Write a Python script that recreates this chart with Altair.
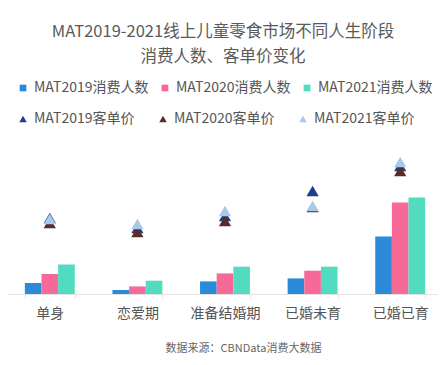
import altair as alt
import pandas as pd

FONT = "Noto Sans CJK SC"

stages = ["单身", "恋爱期", "准备结婚期", "已婚未育", "已婚已育"]
bar_series = ["MAT2019消费人数", "MAT2020消费人数", "MAT2021消费人数"]
price_series = ["MAT2019客单价", "MAT2020客单价", "MAT2021客单价"]

users_2019 = [11, 4, 12.6, 15.6, 57.6]
users_2020 = [20, 7.6, 20.6, 23.3, 91.6]
users_2021 = [29.6, 13.3, 27.3, 27.3, 96.6]

price_2019 = [76, 66, 78, 103, 128]
price_2020 = [71, 62, 73, 87, 123]
price_2021 = [75, 70, 83, 88, 132]

bar_colors = ["#2b8bd8", "#f76a98", "#52dcbf"]
tri_colors = ["#1c3f8c", "#5b2b28", "#a9c8ea"]

title_lines = ["MAT2019-2021线上儿童零食市场不同人生阶段", "消费人数、客单价变化"]
source_text = "数据来源：CBNData消费大数据"

bar_rows = []
for i, s in enumerate(stages):
    for name, vals in zip(bar_series, [users_2019, users_2020, users_2021]):
        bar_rows.append({"stage": s, "series": name, "value": vals[i]})
bars_df = pd.DataFrame(bar_rows)

tri_rows = []
for name, vals in zip(price_series, [price_2019, price_2020, price_2021]):
    for i, s in enumerate(stages):
        tri_rows.append({"stage": s, "series": name, "value": vals[i]})
tri_df = pd.DataFrame(tri_rows)

x_enc = alt.X(
    "stage:N",
    sort=stages,
    scale=alt.Scale(range=[-2, 436], paddingInner=0.43, paddingOuter=0.215),
    axis=alt.Axis(
        title=source_text,
        titleFont=FONT,
        titleFontSize=11,
        titleFontWeight="normal",
        titleColor="#666666",
        titlePadding=22,
        titleX=235,
        labelFont=FONT,
        labelFontSize=14,
        labelColor="#555555",
        labelPadding=8,
        labelAngle=0,
        domainColor="#e3e3e3",
        tickColor="#e3e3e3",
        tickSize=4,
        tickBand="extent",
        grid=False,
    ),
)
y_scale = alt.Scale(domain=[0, 154])

bars = alt.Chart(bars_df).mark_bar().encode(
    x=x_enc,
    xOffset=alt.XOffset("series:N", sort=bar_series,
                        scale=alt.Scale(paddingInner=0, paddingOuter=0)),
    y=alt.Y("value:Q", scale=y_scale, axis=None),
    color=alt.Color(
        "series:N",
        scale=alt.Scale(domain=bar_series, range=bar_colors),
        legend=alt.Legend(
            orient="none", legendX=8, legendY=-59, direction="horizontal",
            title=None, symbolType="square", symbolSize=45, symbolStrokeWidth=0,
            labelFont=FONT, labelFontSize=14, labelColor="#555555",
            labelOffset=4, columnPadding=9, padding=0,
        ),
    ),
)

tris = alt.Chart(tri_df).mark_point(
    shape="triangle-up", filled=True, size=150, opacity=1
).encode(
    x=x_enc,
    y=alt.Y("value:Q", scale=y_scale, axis=None),
    color=alt.Color(
        "series:N",
        sort=price_series,
        scale=alt.Scale(domain=price_series, range=tri_colors),
        legend=alt.Legend(
            orient="none", legendX=8, legendY=-28, direction="horizontal",
            title=None, symbolType="triangle-up", symbolSize=55, symbolStrokeWidth=0,
            labelFont=FONT, labelFontSize=14, labelColor="#555555",
            labelOffset=4, columnPadding=21, padding=0,
        ),
    ),
    order=alt.Order("series:N"),
)

chart = alt.layer(bars, tris).resolve_scale(color="independent").resolve_legend(
    color="independent"
).properties(
    width=430,
    height=154,
    padding={"left": 0, "top": 132, "right": 0, "bottom": 60},
    autosize=alt.AutoSizeParams(type="none"),
    background="white",
    title=alt.TitleParams(
        text=title_lines, font=FONT, fontSize=16.5, fontWeight="normal",
        color="#5a5a5a", lineHeight=25, anchor="middle", baseline="bottom",
        offset=0,
    ),
).configure_view(stroke=None)

chart.save("out.html", embed_options={"renderer": "svg", "actions": False})
